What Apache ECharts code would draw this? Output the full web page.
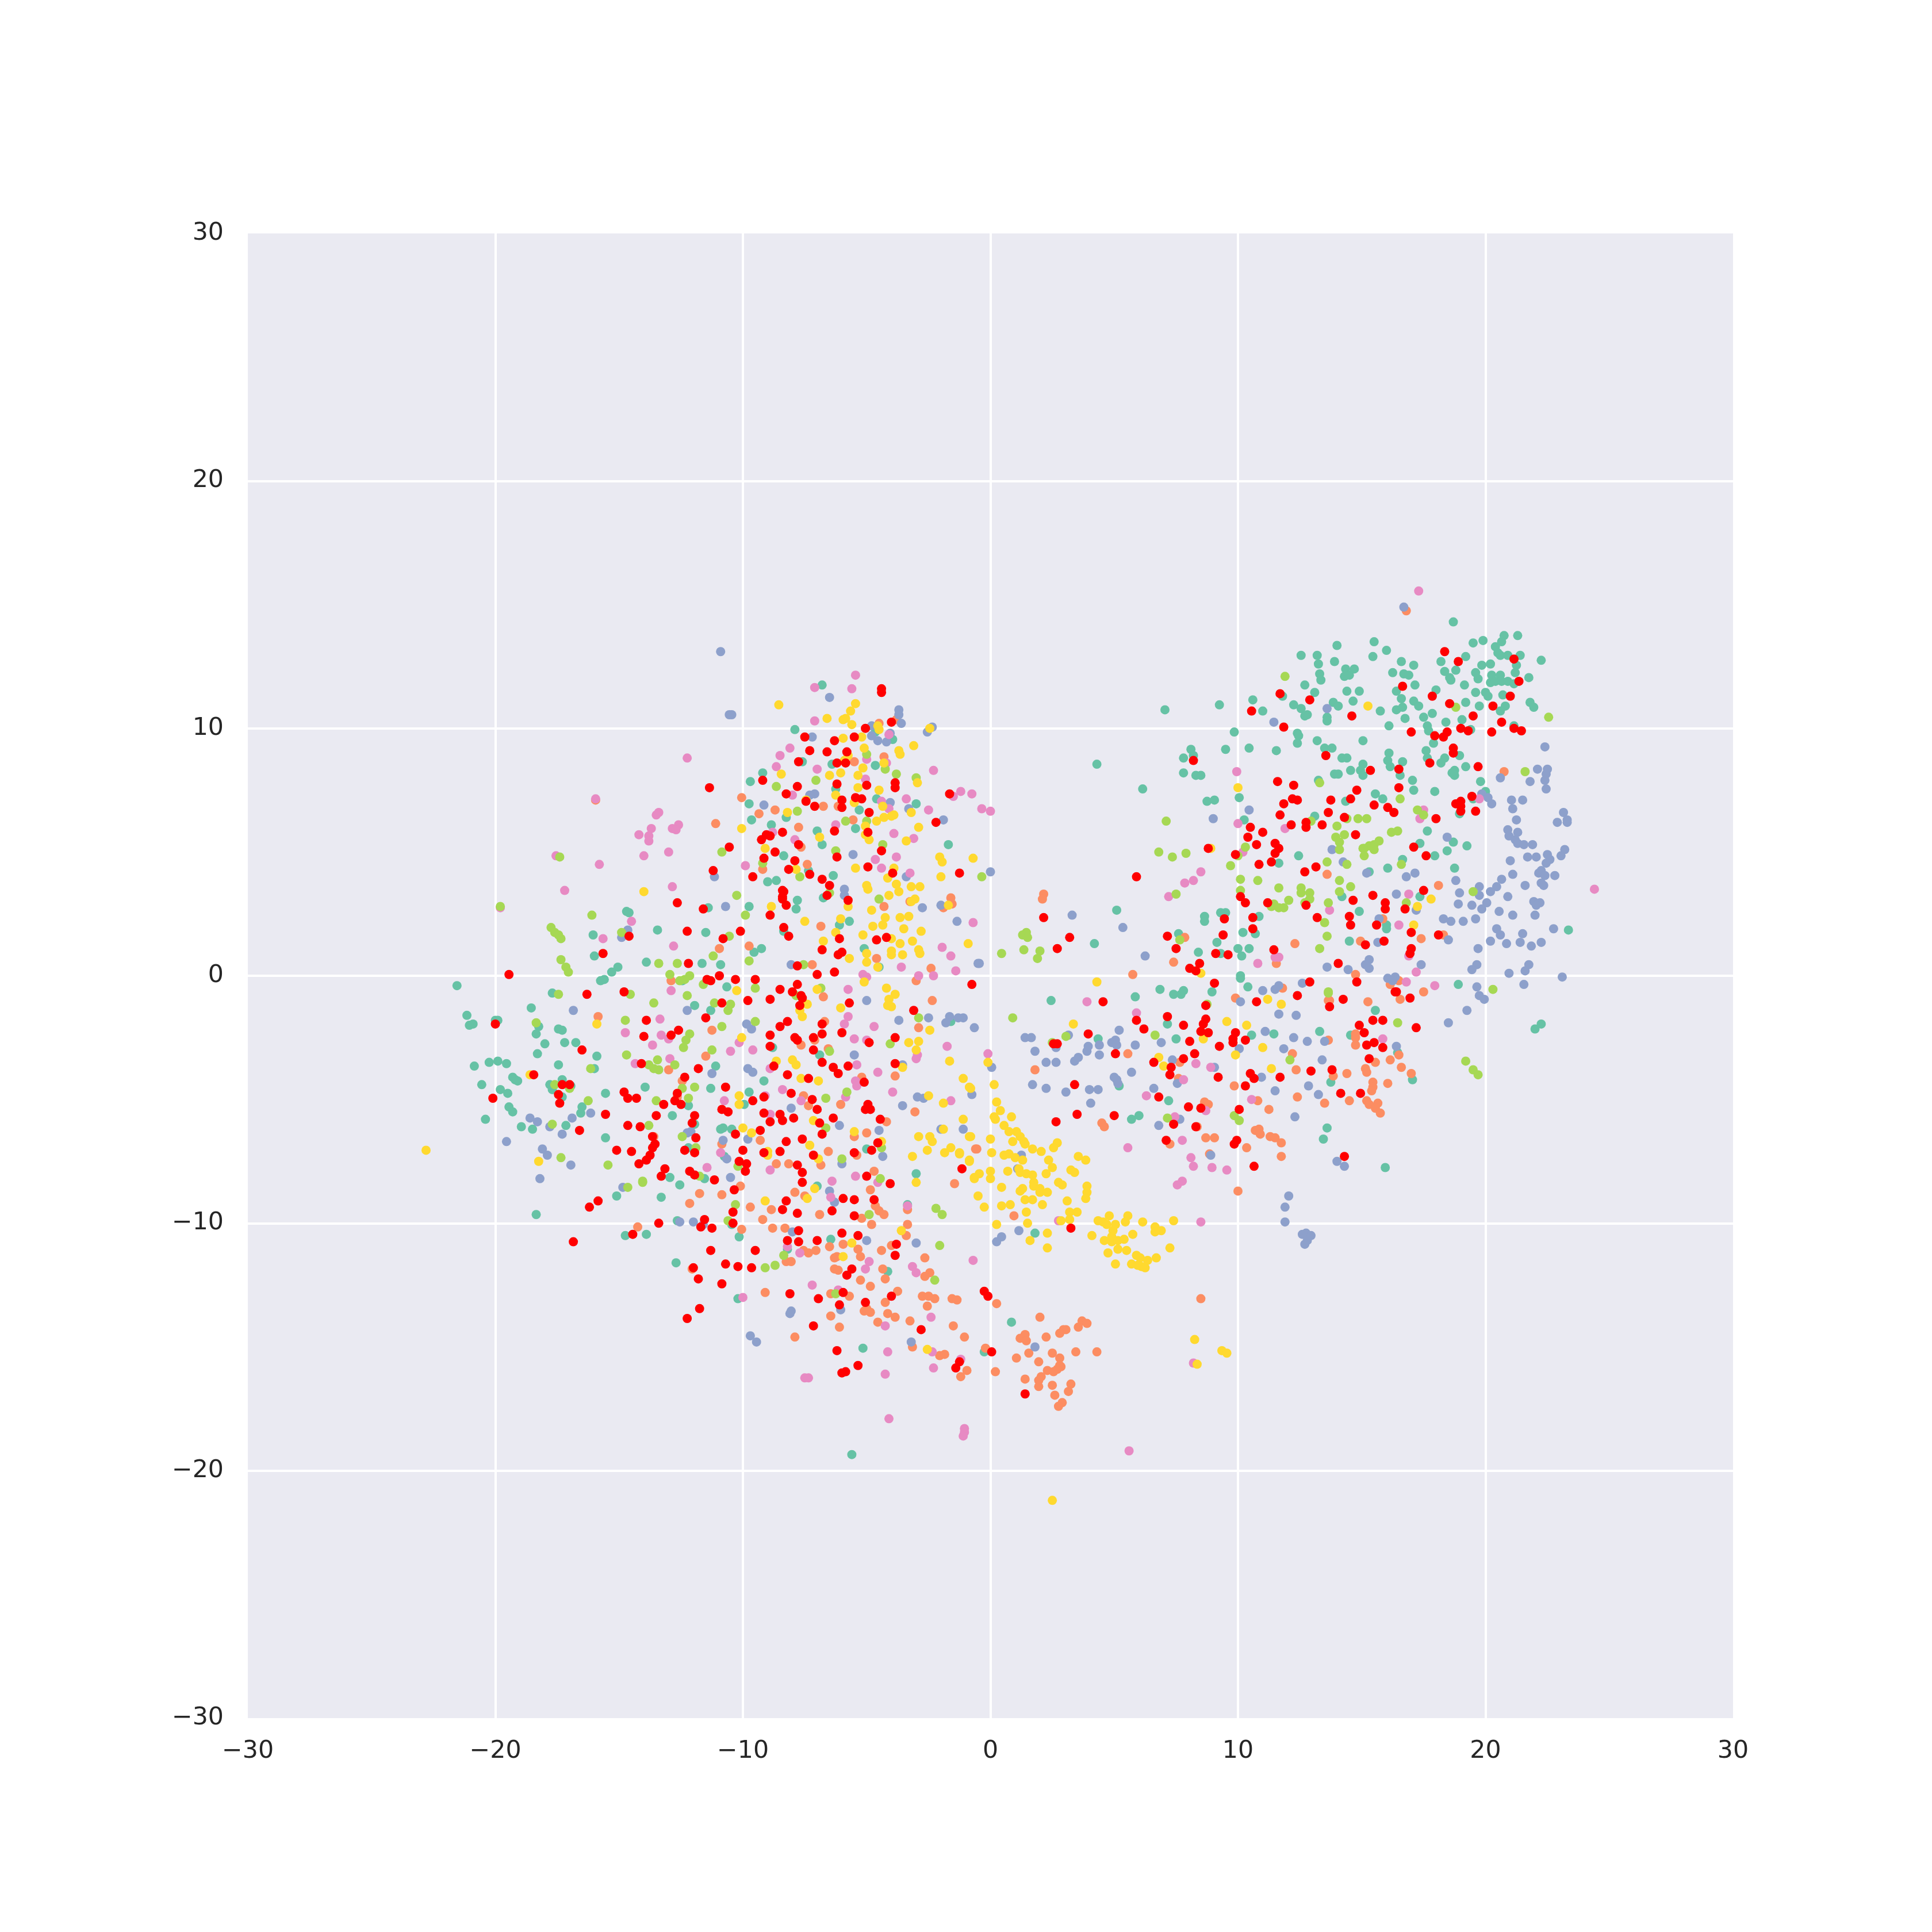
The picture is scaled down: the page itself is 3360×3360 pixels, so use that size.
<!DOCTYPE html>
<html><head><meta charset="utf-8"><style>html,body{margin:0;padding:0;background:#fff}#c{width:3360px;height:3360px}</style>
<script src="https://cdn.jsdelivr.net/npm/echarts@6/dist/echarts.min.js"></script></head><body><div id="c"></div><script>
const tickStep = 10;
const tealPts = [[-6.8,11.75],[-7.9,9.95],[-4.65,9.85],[-3.95,9.55],[-7.6,8.65],[-6.4,8.55],[-4.65,8.5],[-9.2,8.2],[-9.7,7.85],[-6.25,7.55],[-4.6,7.15],[-9.75,6.95],[-3,6.95],[-5.3,6.7],[-9.65,6.3],[-8.25,6.4],[-8.85,6.1],[-5.45,5.95],[-7,5.85],[-6.8,5.3],[-1.7,5.3],[-8.35,4.85],[-7.35,4.25],[-6.35,4.05],[-9,3.8],[-8.65,3.85],[-6.75,3.15],[-7.8,3.05],[-11.4,2.75],[-9.75,2.8],[-7.85,2.7],[-14.7,2.6],[-14.6,2.55],[-6.1,2.05],[-5.7,2.2],[-13.45,1.85],[-11.5,1.75],[-8.35,1.8],[-16.05,1.65],[-5.1,1.1],[-9.25,1.1],[-9.55,0.95],[-16,0.8],[-13.9,0.55],[-11.65,0.5],[-10.9,0.45],[-15.05,0.35],[-4.5,0.35],[-15.3,0.15],[-15.6,-0.15],[-15.75,-0.2],[-21.55,-0.4],[-12.45,-0.2],[-10.65,-0.45],[-17.7,-0.7],[-11.95,-1.2],[-11.3,-1.4],[-18.55,-1.3],[-21.15,-1.6],[-20,-1.8],[-19.9,-1.8],[-20.9,-1.95],[-21.05,-2],[-18.25,-2.05],[-17.45,-2.15],[-17.3,-2.2],[-1.6,-1.85],[-18.35,-2.35],
[-18,-2.75],[-17.2,-2.7],[-16.75,-2.7],[-8.8,-2.9],[-15.9,-3.25],[-18.3,-3.15],[-6.9,-3.2],[-20.85,-3.65],[-20.25,-3.5],[-19.9,-3.45],[-19.55,-3.55],[-17.45,-3.6],[-16,-3.75],[-11.1,-3.65],[-19.3,-4.1],[-19.2,-4.2],[-19.1,-4.25],[-9.15,-4.25],[-17.3,-4.2],[-20.55,-4.4],[-17.8,-4.4],[-16.95,-4.45],[-19.8,-4.6],[-17.7,-4.6],[-19.5,-4.75],[-13.95,-4.5],[-11.3,-4.55],[-15.55,-4.75],[-9.75,-4.7],[-17.3,-4.9],[-19.45,-5.3],[-16.5,-5.3],[-12.2,-5.25],[-19.3,-5.5],[-16.55,-5.55],[-9.95,-5.2],[-12.85,-5.65],[-20.4,-5.8],[-18.95,-6.1],[-18.5,-6.2],[-17.15,-6.05],[-11.95,-6],[-10.9,-6.2],[-10.8,-6.15],[-10.45,-6.2],[-15.55,-6.55],[-12.2,-6.95],[-5,-7],[-10.75,-7.3],[-12.95,-8.15],[-11.55,-8.2],[-3,-8],[-12.55,-8.45],[-7,-8.5],[-15.1,-8.9],[-13.3,-8.95],[-3.35,-9.25],[-18.35,-9.65],[-12.65,-9.9],[-10.45,-10.05],[-10.15,-10.55],[-14.75,-10.5],[-13.9,-10.45],[-6.45,-10.65],[-8.2,-11.05],[-12.7,-11.6],[-4.15,-11.95],[-10.2,-13.05],[-5.15,-15.05],[-5.6,-19.35],
[18.7,14.3],[14,13.35],[15.5,13.5],[16,13.15],[12.55,12.95],[13.2,12.95],[13.9,12.7],[13.25,12.6],[15.45,12.9],[16.6,12.7],[17.1,12.55],[18.2,12.7],[19.2,12.9],[20.75,13.75],[21.3,13.75],[19.9,13.55],[19.5,13.45],[20.65,13.5],[20.4,13.3],[20.5,13.05],[20.6,12.95],[20.9,12.95],[21.4,12.95],[22.25,12.75],[21.25,12.55],[19.85,12.55],[20.2,12.6],[14.7,12.4],[14.35,12.4],[13.3,12.2],[16.25,12.25],[16.7,12.2],[16.9,12.15],[18.35,12.3],[18.8,12.35],[19.6,12.25],[21.2,12.25],[14.3,12.1],[14.5,12.15],[13.35,11.95],[20.25,12.15],[20.6,12.15],[19.7,12],[21.75,12.05],[18.55,12.05],[18.6,11.95],[20.2,11.85],[20.4,11.9],[20.65,11.9],[20.9,11.9],[21.15,11.8],[12.7,11.75],[17.15,11.75],[19.15,11.75],[14.4,11.5],[14.9,11.5],[16.4,11.5],[18,11.55],[19.6,11.45],[20,11.45],[20.1,11.3],[13.1,11.45],[11.8,11.3],[20.7,11.35],[10.6,11.15],[16.6,11.2],[14.65,11.1],[17.1,11.1],[13.85,11.05],[19.2,11.05],[21.8,11.05],[12.25,10.95],[14.05,10.9],[17.3,10.9],[19.75,10.9],[21.95,10.85],[7.05,10.75],[9.25,10.95],[12.55,10.8],[11,10.7],[16.4,10.75],[16.65,10.85],[15.75,10.7],[20.8,10.9],[20.6,10.7],[17.85,10.6],[12.8,10.55],[12.7,10.5],[13.6,10.45],[13.6,10.3],[16.75,10.4],[17.5,10.45],[18.4,10.25],[19.05,10.35],[16.1,10.1],[17.65,10.1],[17.7,9.9],[19.4,9.95],[21.15,10.1],[9.85,9.85],[12.4,9.8],[12.45,9.7],[12.4,9.4],[13.2,9.5],[15.05,9.5],[17.9,9.4],[8.1,9.15],[9.5,9.15],[10.45,9.2],[11.55,9.1],[13.5,9.2],[13.8,9.2],[17.6,9.1],[16.1,9],[18.95,8.9],[8.2,8.9],[7.8,8.8],[14.2,8.8],[14.4,8.8],[17.65,8.8],[18.35,8.8],[16.05,8.7],[16.65,8.65],[18.2,8.6],[4.3,8.55],[15.05,8.55],[16.15,8.45],[19.2,8.45],[14.95,8.3],[14.55,8.3],[18.75,8.3],[18.65,8.2],[7.8,8.2],[8.3,8.1],[8.5,8.1],[13.9,8.15],[14.05,8.15],[15.05,8.1],[16.55,8.1],[18.75,8.1],[17.05,7.9],[19.8,7.85],[13.25,7.9],[6.15,7.55],[17.1,7.5],[17.95,7.45],[20,7.45],[15.55,7.35],[10.05,7.2],[8.75,7.05],[9.05,7.1],[15.85,7.15],[14.35,7.05],[19.5,7.15],[18.95,6.55],[13.1,6.45],[10.25,6.3],[17.65,5.85],[18.7,5.4],[17.35,5.35],[19.25,5.25],[18.45,5.05],[12.45,4.85],[17.95,4.85],[11.65,4.55],[16.65,4.7],[18.75,4.35],[16.05,4.35],[15.3,4.2],[14.2,3.2],[17.35,3.2],[5.1,2.65],[14.9,2.6],[9.3,2.55],[9.5,2.55],[10.85,2.4],[8.65,2.4],[8.65,2.2],[16,2.05],[16,1.9],[23.35,1.85],[10.2,1.75],[10.7,1.7],[7.6,1.7],[4.2,1.3],[14.5,1.4],[9.15,1.35],[10,1.1],[10.45,1.1],[8.4,0.95],[9.3,0.9],[10.15,0.8],[10.1,-0.1],[10.4,-0.45],[6.85,-0.55],[7.8,-0.6],[7.4,-0.75],[7.7,-0.75],[8.95,-0.65],[18.9,-0.35],[5.85,-0.85],[2.45,-1],
[7.15,-1.95],[4.35,-2.55],[7.5,-2.55],[11.45,-2.35],[10.55,-2.4],[13.3,-2.25],[14.55,-2.4],[15.55,-1.4],[17.05,-4.2],[13.75,-4.3],[5.2,-4.45],[7.2,-5.05],[5.7,-5.8],[6,-5.65],[13.6,-6.15],[13.45,-6.6],[15.95,-7.75],[22,-2.15],[22.25,-1.95],[1.8,-10.4],[0.85,-14],[-0.25,-15.2],[16.45,-3.1],[10.1,0]];
const orangePts = [[-4.5,10.2],[-3.8,10.35],[-4.3,8.85],[-5.5,8.65],[-10.05,7.2],[-6.75,6.85],[-6.15,6.85],[-8.7,6.7],[-9.35,6.55],[-5.55,6.3],[-11.1,6.15],[-7.75,6],[-7.65,5.2],[-7.4,4.5],[-9.2,4.3],[-15.95,7.1],[-1.6,3.15],[-1.55,2.9],[-1.9,2.75],[-3.25,3],[-4.3,2.8],[-6.85,2],[-9.75,1.2],[-10.95,1.1],[-4.6,0.7],[-7.2,0.45],[-2.4,0.3],[-12.9,-0.2],[-3,-0.2],[-6.75,-0.85],[-2.35,-1],[-15.85,-1.65],[-6.7,-1.85],[-2.9,-2.1],[-11.25,-2.2],
[-7.1,-2.6],[-7.65,-2.8],[-6.55,-2.95],[-11.5,-3.25],[-13,-3.8],[-12.45,-4.25],[-3.85,-4.05],[-5.2,-4.1],[-7.55,-4.85],[-6.05,-5.2],[-7.35,-5.25],[-12.65,-4.9],[-3.05,-5.5],[-4.2,-5.9],[-5,-6.35],[-5.5,-6.5],[-13.6,-6.5],[-10.85,-6.8],[-9.3,-6.65],[-6.55,-7.1],[-5.4,-7.25],[-0.55,-7],[-8.65,-7.6],[-8.15,-7.6],[-6.85,-7.65],[-4.7,-7.9],[-1.45,-8.4],[-10.1,-8.5],[-4.85,-8.65],[-11.75,-8.8],[-10.85,-8.85],[-7.9,-8.75],[-7.5,-8.9],[-12.15,-9.2],[-9.7,-9.35],[-8.85,-9.45],[-4.65,-9.3],[-4.5,-9.5],[-4.3,-9.65],[-3.35,-9.45],[-9.2,-9.85],[-6.9,-9.65],[-5.2,-9.8],[-14.25,-10.15],[-10.05,-10.25],[-8.8,-10.2],[-8.3,-10.2],[-4.8,-10.05],[-3.35,-10.05],[-3.4,-10.5],[-5.95,-10.85],[-6.5,-10.95],[-5.35,-11.05],[-4.4,-11.1],[-4,-10.9],[-7.55,-11.1],[-7.05,-11.1],[-7.35,-11.2],[-6.3,-11.4],[-6.2,-11.35],[-5.25,-11.35],[-2.65,-11.4],[-8.25,-11.55],[-8.05,-11.55],[-12.05,-11.85],[-6.3,-11.85],[-6.15,-11.9],[-4.35,-11.85],[-2.45,-12],[-2.65,-12.15],[-4.25,-12.25],[-5.25,-12.3],[-4.85,-12.55],[-3.75,-12.75],[-9.1,-12.8],[-6.45,-12.85],[-5.7,-12.95],[-2.75,-12.95],[-2.5,-12.95],[-2.25,-13.05],[-1.55,-13.05],[-1.35,-13.1],[-4.25,-13.2],[-2.55,-13.35],[-5.1,-13.55],[-5,-13.45],[-4.85,-13.6],[-4.15,-13.65],[-3.85,-13.8],[-6.45,-13.75],[-4.55,-14],[-3.25,-13.95],[-1.5,-14.15],[-6.1,-14.2],[-1.05,-14.6],[-7.9,-14.6],[-3.15,-15],[-2.05,-15.35],[-1.85,-15.3],[-0.95,-15.95],[-1.2,-16.2],
[16.8,14.75],[20.75,8.25],[18.1,3.65],[2.15,3.3],[2.1,3.1],[13.6,4.1],[15.85,2.3],[7.85,1.55],[12.3,1.3],[14.95,1.4],[17.4,1.5],[18.3,1.65],[7.4,0.55],[11.55,0.5],[5.75,0.05],[14.75,0.05],[16.5,-0.2],[16.15,-0.35],[11.8,-0.5],[17.5,-0.65],[9.9,-0.9],[16.55,-0.95],[15.25,-1.05],[13.65,-1],
[13.7,-1],[13.65,-2.6],[14.75,-2.8],[14.75,-2.5],[14.75,-2.35],[5.55,-3.15],[12.2,-3.15],[16.5,-3.2],[16.15,-3.4],[15.55,-3.5],[7.65,-3.5],[1.8,-3.8],[12.35,-3.8],[16.6,-3.7],[15.15,-3.75],[15.2,-3.9],[14.4,-3.95],[17,-3.95],[13.85,-4.05],[7.6,-4.15],[15.45,-4.3],[16.05,-4.35],[15.45,-4.5],[15.4,-4.65],[9.85,-4.45],[12.4,-4.9],[13.5,-5.15],[10.8,-5.05],[14.5,-5.05],[15.2,-5.05],[15.65,-5.15],[15.3,-5.2],[15.55,-5.35],[15.75,-5.55],[8.65,-5.1],[8.8,-5.2],[11.25,-5.4],[4.5,-5.95],[4.6,-6.1],[8.35,-6.1],[10.7,-6.25],[10.85,-6.2],[10.9,-6.4],[11.3,-6.5],[11.5,-6.55],[11.75,-6.75],[8.7,-6.55],[9.05,-6.55],[7.25,-6.8],[10.35,-6.95],[11.75,-7.3],[8.85,-7.2],[10,-8.7],[-0.6,-7],[0.95,-9.7],[8.5,-13.05],[0.25,-13.25],[2,-13.8],[3.7,-13.95],[3.9,-14.05],[3.55,-14.2],[3.05,-14.3],[2.95,-14.3],[2.8,-14.45],[1.4,-14.5],[1.2,-14.65],[2.25,-14.6],[1.45,-14.75],[-0.2,-15.05],[2.5,-15.25],[1.55,-15.25],[3.45,-15.2],[4.3,-15.2],[2.8,-15.45],[1.05,-15.45],[1.95,-15.6],[2.8,-15.75],[2.85,-15.8],[2.3,-15.95],[2.7,-15.9],[2.55,-16],[0.2,-16],[1.4,-16.3],[2.05,-16.2],[1.95,-16.35],[2.5,-16.55],[3.25,-16.5],[1.95,-16.6],[3.15,-16.8],[2.6,-16.95],[2.9,-17.25],[2.75,-17.4]];
const bluePts = [[-10.9,13.1],[-10.55,10.55],[-10.45,10.55],[-6.5,11.25],[-3.7,10.75],[-3.7,10.55],[-3.6,10.2],[-4.8,10.1],[-2.35,10.05],[-2.55,9.85],[-4.05,9.8],[-4.8,9.7],[-7.2,9.65],[-4.55,9.5],[-4.2,9.45],[-7.1,7.35],[-7.3,7.3],[-4.05,7],[-9.15,6.9],[-3.3,6.75],[-1.9,6.3],[-5.55,4.9],[-11.15,4],[-3.4,4],[-5.9,3.5],[-5.9,3.25],[-10.7,2.8],[-2,2.85],[-2.75,2.75],[-1.35,2.2],[-14.65,1.85],[-14.9,1.55],[-8.05,0.45],[-0.5,0.5],[-16.85,-1.4],[-5,-1],[-12.25,-1.4],[-3.7,-1.8],[-2.5,-1.7],[-1.65,-1.65],[-1.3,-1.7],[-1.1,-1.7],[-1.8,-1.9],[-9.85,-1.95],[-9.65,-2.15],[-0.65,-2.1],
[-5.5,-3.2],[-9.8,-3.75],[-9.6,-3.9],[-11.25,-3.95],[-3.55,-3.6],[-0.75,-4.8],[-2.95,-4.9],[-2.7,-4.95],[-3.55,-5.25],[-8.05,-5.35],[-16.15,-5.55],[-18.6,-5.75],[-18.3,-5.9],[-16.9,-5.75],[-17.8,-6.1],[-17.3,-6.4],[-6.1,-6.05],[-4.5,-6.25],[-2,-6.2],[-1.1,-6.2],[-12.25,-6.35],[-12.1,-6.3],[-10.8,-6.65],[-9.8,-6.6],[-19.55,-6.7],[-18.1,-7],[-17.9,-7.25],[-4.35,-7.3],[-16.95,-7.65],[-10.65,-7.4],[-6,-7.6],[-18.2,-8.2],[-10.5,-8.15],[-14.85,-8.55],[-6.5,-8.7],[-6.3,-9.15],[-12.55,-9.95],[-12,-9.95],[-11.6,-10.05],[-8,-10.35],[-5,-10.7],[-3,-10.8],[-8.05,-13.55],[-8.1,-13.65],[-6.05,-13.5],[-9.7,-14.55],[-9.45,-14.8],[-3.2,-14.8],
[13.6,10.8],[11.45,10.25],[16.7,14.9],[22.4,9.25],[22.1,8.35],[22.5,8.35],[22.45,8.15],[22.4,7.9],[21.8,7.85],[22.45,7.55],[20.6,8],[19.85,7.35],[20.1,7.2],[20.25,6.95],[21.05,7.1],[21.5,7.1],[21.1,6.75],[10.45,6.7],[23.15,6.6],[22.9,6.2],[23.3,6.3],[23.3,6.2],[9,6.35],[21.25,6.3],[20.9,5.9],[21.3,5.8],[20.95,5.65],[21.2,5.5],[21.3,5.35],[21.55,5.3],[21.9,5.3],[18.45,5.6],[13.8,5.1],[23.2,5.1],[22.5,4.9],[23.05,4.85],[21.7,4.8],[22.05,4.8],[22.6,4.7],[21,4.65],[22.45,4.55],[14.25,4.6],[22.25,4.25],[22.15,4.15],[22.4,4.05],[22.8,4.05],[21.1,4.1],[20.65,3.9],[15.2,4.15],[17.15,4.15],[16.8,4],[18.8,3.85],[22.25,3.75],[22.35,3.65],[21.6,3.65],[19.75,3.6],[20.45,3.6],[20.2,3.4],[18.95,3.35],[19.75,3.25],[16.4,3.3],[20.9,3.2],[21.95,3],[22.2,2.95],[22.05,2.85],[20.05,2.95],[18.9,2.9],[19.45,2.85],[19.85,2.7],[17.2,2.65],[3.3,2.45],[20.55,2.6],[21.1,2.45],[22,2.45],[15.7,2.3],[18.3,2.3],[18.6,2.2],[19.1,2.2],[19.6,2.3],[5.35,1.95],[20.45,1.9],[22.75,1.9],[20.6,1.65],[21.5,1.7],[18.5,1.45],[20.2,1.4],[20.85,1.3],[21.4,1.35],[21.85,1.2],[22.25,1.35],[15.65,1.35],[19.7,1.1],[6.25,0.8],[15.3,0.65],[15.15,0.45],[15.3,0.3],[13.6,0.35],[14.45,0.25],[17.4,0.45],[19.65,0.45],[19.45,0.25],[21.75,0.45],[21.6,0.2],[20.95,0.1],[23.1,-0.05],[-0.45,0.5],[0,4.2],[16.05,-0.1],[16.35,-0.05],[16.25,-0.2],[21.55,-0.35],[12.6,-0.3],[11.65,-0.4],[11.5,-0.55],[11,-0.6],[19.65,-0.45],[19.75,-0.8],[19.95,-0.95],[10.1,-1.05],
[1.4,-2.5],[1.65,-2.5],[2.65,-2.9],[1.8,-3.05],[3.15,-2.4],[2.25,-3.5],[2.65,-3.5],[3.4,-3.45],[3.55,-3.3],[3.9,-3.05],[3.95,-2.85],[4.4,-3.2],[4.4,-2.8],[4.9,-2.7],[5.05,-2.6],[5.1,-2.8],[5.2,-2.2],[5.85,-2.8],[6.9,-2.7],[7.35,-3.4],[5.7,-3.9],[5,-4.1],[5.1,-4.2],[5.15,-4.35],[1.7,-4.4],[2.25,-4.55],[3.05,-4.7],[4,-4.6],[4.35,-4.6],[4.05,-5.15],[6.6,-4.55],[7.55,-4.35],[9.05,-3.7],[10.95,-4.1],[11.5,-4.65],[12.85,-4.45],[13.25,-4.8],[13.4,-3.4],[12.3,-5.7],[11.85,-2.95],[12.8,-2.65],[12.25,-2.5],[13.5,-2.65],[16.4,-2.85],[10.05,-2.95],[11.1,-2.25],[11.65,-1.55],[12.35,-1.6],[18.5,-1.9],[19.25,-1.4],[7.65,-5.8],[6.8,-6.05],[0.05,-3.7],[1.25,-7.25],[1.1,-7.8],[8.9,-7.25],[14,-7.5],[14.3,-7.7],[12.05,-8.9],[11.9,-9.35],[11.9,-9.95],[12.6,-10.45],[12.75,-10.4],[12.95,-10.5],[12.8,-10.7],[12.7,-10.85],[1.15,-10.3],[0.45,-10.55],[0.25,-10.75],[1.8,-15]];
const pinkPts = [[-5.45,12.15],[-7.1,11.65],[-5.6,11.6],[-7.1,10.3],[-4.1,9.75],[-12.25,8.8],[-8.1,9.2],[-8.5,8.9],[-5,8.75],[-4.2,8.6],[-8.65,8.45],[-7,8.35],[-2.3,8.3],[-5.05,7.95],[-8,7.3],[-1.2,7.45],[-0.75,7.35],[-1.5,7.25],[-15.95,7.15],[-3.4,7.15],[-4.4,7.05],[-4.1,6.75],[-2.5,6.7],[-13.4,6.6],[-13.5,6.5],[-12.6,6.1],[-13.7,5.95],[-12.85,5.95],[-12.7,5.9],[-13.8,5.65],[-14.2,5.7],[-13.8,5.45],[-6.25,6.1],[-8.8,5.8],[-3.9,5.75],[-3.1,5.55],[-7.9,5.5],[-17.55,4.85],[-14,4.85],[-13,5],[-15.8,4.5],[-3.8,4.8],[-4.65,4.7],[-9.9,4.45],[-4.4,4.35],[-3.25,4.15],[-17.2,3.45],[-12.85,3.6],[-14.5,2.2],[-19.8,2.75],[-0.7,2.15],[-15.65,1.5],[-12.8,1.2],[-1.95,1.15],[-1.6,0.8],[-3.6,0.35],[-1.4,0.2],[-5.15,0.05],[-5,-0.05],[-2.3,0],[-2.9,0],[-12.9,-0.6],[-5.75,-0.55],[-13.35,-1.75],[-5.75,-1.65],[-5.9,-1.95],[-4.7,-2.05],[-14.75,-2.3],[-13.3,-2.4],
[-13,-2.55],[-13.65,-2.8],[-10.15,-2.7],[-10.5,-3.05],[-9.6,-3],[-5.5,-2.55],[-5,-2.6],[-1.75,-2.85],[-12.95,-3.35],[-14.35,-3.55],[-5.4,-3.6],[-2.95,-3.2],[-3,-3.35],[-8.9,-3.75],[-4.55,-3.9],[-5.45,-4.25],[-5.4,-4.45],[-8.4,-4.6],[-9.1,-4.85],[-3.95,-4.7],[-5.85,-4.9],[-10.75,-5.05],[-7.65,-5.05],[-1.6,-5.05],[-8.9,-5.6],[-10.9,-7.15],[-11.45,-7.75],[-8.9,-7.85],[-5.45,-8.1],[-6.4,-8.3],[-4.55,-8.35],[-6.45,-8.95],[-3.35,-9.3],[-8.2,-10.95],[-7.7,-11.2],[-4.9,-11.55],[-3.15,-11.75],[-3,-12],[-5.05,-11.85],[-0.7,-11.5],[-7.2,-12.5],[-6.15,-12.7],[-10,-13],[-2.4,-13.8],[-4.25,-14.15],[-4.15,-15.2],[-2.35,-15.2],[-1.2,-15.5],[-2.3,-15.85],[-4.25,-16.1],[-7.5,-16.25],[-7.35,-16.25],[-4.1,-17.9],[-1.05,-18.3],[-1.05,-18.45],[-1.1,-18.6],
[17.3,15.55],[9.95,8.25],[-0.35,6.75],[0,6.65],[10,6.15],[11.9,5.95],[17.5,6.7],[17.35,6.35],[19.75,7.15],[10.2,5],[8.5,4.2],[8.2,3.85],[7.85,3.75],[7.2,3.2],[24.4,3.5],[16.9,3.3],[13.7,2.65],[16.5,2.05],[11.5,0.75],[11.65,0.75],[10.8,0.5],[16.9,0.8],[17.2,0.15],[16.8,-0.25],[17.95,-0.4],[3.9,-1.05],
[5.9,-1.5],[15.85,-2.55],[8.3,-3.55],[8.9,-3.7],[7.8,-4.2],[6.3,-4.85],[10.55,-5],[8.7,-5.45],[7.45,-5.7],[7.75,-6.65],[5.55,-6.95],[8.1,-7.35],[8.2,-7.7],[8.95,-7.75],[9.55,-7.85],[7.75,-8.3],[7.55,-8.45],[2.75,-9.9],[8.5,-9.95],[8.2,-15.65],[-0.1,-3.15],[5.6,-19.2]];
const greenPts = [[-5,8.95],[-4.25,8.35],[-3.8,8.15],[-3,8],[-7.05,7.9],[-8.65,7.65],[-7.8,6.65],[-5.85,6.25],[-5,6.25],[-4.35,5.3],[-10.85,5],[-6.25,5.05],[-17.4,4.8],[-9.2,4.55],[-7.7,4],[-6.5,3.35],[-10.25,3.25],[-4.5,3.1],[-19.8,2.8],[-16.1,2.45],[-9.9,2.45],[-17.75,1.95],[-17.6,1.75],[-17.45,1.65],[-17.35,1.5],[-14.9,1.75],[-10.55,1.6],[-11.2,0.8],[-9.75,0.6],[-17.35,0.65],[-17.15,0.35],[-17.05,0.15],[-13.4,0.5],[-12.65,0.5],[-7.55,0.45],[-12.95,0.05],[-12.15,0],[-12.35,-0.15],[-12.55,-0.2],[-11.6,-0.35],[-9.5,-0.5],[-6.85,-0.5],[-17.45,-0.75],[-14.55,-0.75],[-12.25,-0.8],[-7.85,-0.8],[-13.6,-1.1],[-11.15,-1.1],[-10.5,-1.15],[-10.6,-1.4],[-2.9,-1.7],[-14.75,-1.8],[-9.5,-1.85],[-18.35,-1.9],[-10.85,-2.05],[-12.15,-2.35],
[-12.3,-2.6],[-12.4,-2.9],[-4.05,-2.75],[-14.7,-3.2],[-11.25,-3],[-6.5,-3.05],[-13.45,-3.4],[-13.8,-3.6],[-13.6,-3.75],[-13.4,-3.8],[-12.75,-3.6],[-16.15,-3.75],[-17.6,-4.4],[-17,-4.55],[-11.95,-4.5],[-12.45,-4.55],[-5.8,-4.7],[-6.65,-4.95],[-12.2,-4.95],[-16.25,-5.05],[-13.5,-5.05],[-17.7,-6],[-13.8,-6.05],[-6.65,-6.15],[-12.45,-6.5],[-11.9,-6.95],[-4.4,-6.95],[-6,-7.4],[-17.35,-7.35],[-15.45,-7.65],[-10.2,-7.7],[-11.75,-8.1],[-4.45,-8.2],[-14.05,-8.3],[-14.05,-8.35],[-14.65,-8.55],[-10.3,-9.25],[-2.2,-9.4],[-4.9,-9.65],[-1.95,-9.65],[-10.6,-9.9],[-2.05,-10.9],[-8.35,-11.3],[-9.1,-11.8],[-8.7,-11.7],[-2.25,-12.3],[-6.25,-12.85],
[11.9,12.1],[18.8,10.85],[22.55,10.45],[21.6,8.25],[13.3,7.8],[16.55,7.15],[17.25,6.7],[17.5,6.5],[7.1,6.25],[14.4,6.35],[14.85,6.35],[15.2,6.35],[12.95,6.25],[14,6.05],[16.2,5.8],[16.45,5.85],[13.95,5.6],[14.3,5.7],[14.1,5.4],[15.7,5.45],[15.5,5.3],[15.3,5.25],[15.1,5.15],[15.05,5.15],[15.5,5.1],[14.1,5.1],[10.3,5.2],[6.8,5],[7.9,4.95],[7.35,4.8],[10,4.85],[15.1,4.85],[9.7,4.45],[13.6,4.6],[14.4,4.5],[16.6,4.5],[10.1,3.9],[10.8,3.85],[14.1,3.85],[14.55,3.6],[11.65,3.55],[12.55,3.55],[10.1,3.45],[12.55,3.35],[12.9,3.35],[14.1,3.4],[7.5,3.3],[19.5,3.4],[12.9,3.1],[12.05,3.05],[12.7,2.95],[11.45,2.9],[13.65,2.95],[16.8,2.95],[11.35,2.8],[11.65,2.75],[11.85,2.75],[13.5,2.15],[1.45,1.75],[1.3,1.65],[1.5,1.55],[13.6,1.6],[7.65,1.45],[1.35,1.05],[2,1],[0.45,0.9],[1.9,0.7],[13.3,1.1],[20.3,-0.55],[13.65,-0.7],[8.75,-1.15],[-0.35,4],
[0.9,-1.7],[3.05,-2.45],[2.5,-2.7],[6.65,-2.4],[13.65,-0.65],[16.45,-1.9],[12.1,-3.4],[9.85,-5.65],[10.05,-5.85],[7.15,-5.75],[19.2,-3.45],[19.5,-3.8],[19.7,-4]];
const yellowPts = [[-8.55,10.95],[-5.45,11],[-5.65,10.7],[-6.6,10.4],[-5.95,10.35],[-5.85,10.4],[-5.6,10.15],[-4.55,10.1],[-4.5,9.95],[-2.45,10],[-5.2,9.65],[-5.95,9.6],[-3.1,9.3],[-5.1,9.2],[-3.7,9.1],[-3.65,8.95],[-5.75,8.9],[-5.9,8.7],[-4.3,8.6],[-5.15,8.4],[-8.45,8.15],[-6.5,8.1],[-6.05,8.2],[-5.35,8.1],[-2.95,7.8],[-5.35,7.6],[-4.5,7.5],[-6.25,7.3],[-7.45,7.1],[-5.5,7],[-4.35,6.85],[-8.2,6.6],[-3.2,6.6],[-3.9,6.5],[-4,6.45],[-4.3,6.4],[-4.6,6.25],[-5.05,6.05],[-2.9,6],[-10.05,5.95],[-5.05,5.7],[-6.9,5.6],[-4.9,5.5],[-3.4,5.45],[-9.1,5.15],[-2.05,4.8],[-1.95,4.6],[-0.7,4.75],[-7.85,4.3],[-5.45,4.35],[-3.9,4.35],[-4.15,3.95],[-2,4],[-5,3.65],[-4.95,3.5],[-3.8,3.7],[-3.2,3.6],[-2.85,3.6],[-3.7,3.4],[-14,3.4],[-4.1,3.25],[-3.05,3.1],[-3.2,3],[-8.85,2.8],[-5.75,2.8],[-1.7,2.85],[-4.8,2.65],[-4.25,2.35],[-3.65,2.35],[-3.3,2.4],[-7.5,2.2],[-6.05,2.3],[-4.75,2],[-4.35,2.05],[-3.5,1.9],[-2.8,1.8],[-6.25,1.75],[-5.15,1.65],[-4,1.5],[-6.75,1.4],[-3.15,1.4],[-3.65,1.3],[-0.9,1.3],[-2.9,1.05],[-2.85,0.9],[-5,0.9],[-4,1],[-4,0.85],[-3.55,0.85],[-5.7,0.7],[-5,0.55],[-4.55,0.35],[-5.1,-0.25],[-4.2,-0.5],[-10.25,-0.6],[-7,-0.55],[-3.85,-0.75],[-4.1,-0.95],[-4.15,-1.2],[-4,-1.25],[-7.4,-1.15],[-7.7,-1.4],[-6.05,-1.3],[-7.6,-1.65],[-15.9,-1.95],[-2.45,-2.2],
[-10.05,-2.5],[-2.9,-2.65],[-3.3,-2.7],[-3,-3],[-1.65,-3.45],[-8.65,-3.45],[-8,-3.4],[-7.85,-3.6],[-3.55,-3.7],[-18.6,-4],[-7.65,-4.15],[-6.95,-4.25],[-1.1,-4.15],[-0.8,-4.55],[-10.15,-4.85],[-10.15,-5.2],[-2.5,-4.85],[-1.9,-5.15],[-7.15,-5.85],[-1.1,-5.8],[-10,-6.15],[-9.65,-6.35],[-5.5,-6.3],[-1.9,-6.2],[-2.9,-6.5],[-2.45,-6.5],[-2.35,-6.7],[-0.8,-6.5],[-7.3,-6.85],[-4.4,-6.7],[-9,-7.1],[-9,-7.25],[-2.55,-7.05],[-1.6,-6.95],[-1.85,-7.15],[-1.25,-7.2],[-3.15,-7.3],[-0.85,-7.5],[-6.95,-7.4],[-18.25,-7.5],[-0.65,-8.15],[-3,-8.35],[-7.1,-8.6],[-7.4,-9],[-9.1,-9.1],[-3.6,-10.3],[-5.6,-10.8],[-5.95,-11.35],[-2.55,-15.1],[-22.8,-7.05],
[10,7.6],[15.25,10.9],[8.9,5.15],[17.8,3.1],[17.25,2.8],[17.1,2.05],[8.5,0.1],[4.3,-0.25],[11.2,-0.95],[11.75,-1.15],
[3.35,-1.95],[9.55,-1.85],[10.35,-2],[8.6,-2.55],[11,-2.9],[9.9,-3.2],[6.8,-3.3],[7,-3.65],[11.35,-3.75],[-0.1,-3.5],[-0.85,-4.5],[0.15,-4.4],[0.25,-5.1],[0.4,-5.45],[0.15,-5.7],[0.2,-5.8],[0.85,-5.7],[0.55,-6.05],[1.05,-6.3],[0.75,-6.3],[1.2,-6.5],[-0.85,-6.5],[0,-6.6],[1.35,-6.7],[0.9,-6.7],[1.4,-6.8],[2.7,-6.75],[2.55,-6.95],[1.7,-7],[2.05,-7.1],[0.05,-7.15],[-1.25,-7.15],[0.55,-7.25],[0.75,-7.2],[1,-7.35],[1.3,-7.45],[3.55,-7.3],[3.85,-7.45],[2.35,-7.45],[-0.85,-7.45],[2.5,-7.75],[0.7,-7.9],[1.15,-7.8],[1.2,-7.95],[1.45,-8],[1.7,-8.05],[2.25,-8],[3.25,-7.85],[3.4,-7.95],[0,-7.9],[-0.45,-8],[-0.65,-8.2],[0,-8.2],[2.75,-8.35],[2.9,-8.45],[1.75,-8.35],[1.75,-8.5],[0.45,-8.55],[3.9,-8.5],[1.3,-8.6],[1.2,-8.7],[2,-8.6],[2,-8.75],[2.3,-8.75],[3.9,-8.75],[3.85,-9],[-0.5,-8.9],[1.4,-9.05],[1.7,-9.05],[3.1,-9.1],[2.1,-9.25],[-0.25,-9.35],[0.45,-9.3],[0.8,-9.25],[1.45,-9.55],[3.2,-9.55],[3.5,-9.55],[3.2,-9.85],[2.85,-9.9],[1.5,-10],[0.25,-10.05],[2.3,-10.4],[1.6,-10.7],[2.3,-11],[4.8,-9.7],[5.55,-9.7],[4.35,-9.9],[4.55,-9.95],[4.7,-10.05],[5.05,-10.05],[5.45,-9.95],[6.15,-9.95],[7.4,-9.9],[6.65,-10.15],[6.9,-10.3],[6.65,-10.35],[4.95,-10.3],[4.1,-10.5],[5.75,-10.45],[4.6,-10.7],[4.9,-10.55],[4.9,-10.75],[5.15,-10.7],[5.4,-10.65],[5.15,-11.05],[7.25,-11],[4.75,-11.2],[5.5,-11.1],[5.9,-11.3],[6.05,-11.4],[6.35,-11.5],[6.7,-11.4],[5.7,-11.65],[5.05,-11.65],[5.95,-11.7],[6.1,-11.75],[6.25,-11.8],[8.25,-14.7],[9.35,-15.15],[9.55,-15.25],[8.35,-15.7],[2.5,-21.2]];
const redPts = [[-4.4,11.6],[-4.4,11.45],[-4,10.25],[-5.05,10],[-7.5,9.65],[-6.3,9.5],[-5.5,9.65],[-7.3,9.1],[-6.6,9.05],[-5.8,9.05],[-7.75,8.65],[-6.2,8.6],[-5.85,8.6],[-9.2,7.9],[-7.8,7.65],[-6.2,7.75],[-5,7.7],[-3.85,7.8],[-3.85,7.6],[-11.35,7.6],[-8.25,7.35],[-1.65,7.35],[-5.45,7.2],[-5.2,7.15],[-6,7.1],[-7.45,7.05],[-7.1,6.85],[-6,6.8],[-4.9,6.6],[-2.2,6.2],[-4.95,5.8],[-6.3,5.85],[-8.4,5.8],[-9.05,5.7],[-8.9,5.65],[-9.25,5.5],[-7.75,5.3],[-10.55,5.2],[-8.7,5],[-4.4,5.05],[-6.2,4.8],[-9.15,4.75],[-7.9,4.65],[-4.95,4.4],[-8.15,4.3],[-11.2,4.25],[-3.95,4.15],[-1.25,4.15],[-7.3,4.1],[-9.6,4],[-6.8,3.9],[-6.5,3.65],[-8.4,3.45],[-8.35,3.4],[-8.4,3.2],[-8.4,3.1],[-8.25,2.85],[-6.6,3.25],[-5.75,3.05],[-12.65,2.95],[-11.6,2.7],[-8.9,2.45],[-12.25,1.8],[-10.1,1.8],[-8.35,1.95],[-8.15,1.6],[-10.8,1.5],[-14.6,1.6],[-6.1,1.5],[-4.6,1.45],[-4.2,1.55],[-6.8,1.05],[-6.15,0.85],[-6,0.95],[-15.65,0.9],[-12.2,0.5],[-7.8,0.4],[-6.3,0.15],[-7,0.05],[-19.45,0.05],[-10.95,0],[-11.45,-0.15],[-11.3,-0.2],[-10.3,-0.15],[-9.5,-0.15],[-7.8,-0.35],[-0.75,-0.35],[-8.5,-0.55],[-8,-0.65],[-14.8,-0.65],[-16.3,-0.75],[-7.65,-0.8],[-7.6,-0.9],[-7.7,-1.2],[-10.85,-1.1],[-9.8,-1],[-8.9,-0.95],[-5.7,-1.1],[-3.1,-1.4],[-20,-1.95],[-13.9,-1.8],[-11.5,-1.7],[-8.2,-1.85],[-8.5,-2.05],[-6.8,-1.95],[-12.6,-2.2],[-6,-2.3],
[-12.9,-2.4],[-14,-2.45],[-8.9,-2.4],[-7.9,-2.5],[-7.8,-2.6],[-7.15,-2.5],[-6.8,-2.35],[-3.85,-2.5],[-4.9,-2.7],[-8.9,-2.85],[-7.15,-3],[-16.5,-3],[-14.1,-3.55],[-6.8,-3.5],[-6.35,-3.7],[-5.75,-3.65],[-6.15,-3.95],[-8.75,-3.65],[-11.8,-3.75],[-3.85,-3.55],[-8.2,-4],[-7.35,-4.15],[-12.35,-4.1],[-18.45,-4],[-5.1,-4.3],[-17.3,-4.4],[-17,-4.4],[-10.7,-4.5],[-14.8,-4.7],[-12.65,-4.75],[-8.05,-4.75],[-17.45,-4.8],[-20.1,-4.95],[-14.65,-4.95],[-14.3,-4.95],[-9.15,-4.9],[-9.6,-5.05],[-7.2,-5],[-12.75,-5.05],[-12.5,-5.2],[-17.4,-5.15],[-13.2,-5.2],[-7,-5.4],[-10.85,-5.4],[-10.6,-5.5],[-9.15,-5.55],[-8.5,-5.6],[-4.95,-5.2],[-5.05,-5.4],[-4.85,-5.4],[-15.55,-5.6],[-11.95,-5.65],[-13.5,-5.65],[-7.95,-5.75],[-8.4,-5.85],[-8.9,-5.9],[-6.35,-5.75],[-4.45,-5.8],[-6.9,-5.95],[-12.05,-5.95],[-14.65,-6.05],[-14.15,-6.1],[-16.6,-6.25],[-9.3,-6.25],[-10.3,-6.4],[-6.8,-6.4],[-13.65,-6.5],[-11.9,-6.55],[-7.6,-6.6],[-8.25,-6.7],[-4.55,-6.75],[-13.55,-6.8],[-13.65,-6.95],[-15.1,-7.05],[-14.5,-7.1],[-4.8,-7.05],[-10,-7.05],[-12.35,-7.05],[-11.95,-7.15],[-9.15,-7.15],[-8.5,-7.1],[-5.5,-7.15],[-7.15,-7.25],[-13.75,-7.25],[-13.9,-7.45],[-10.15,-7.5],[-9.85,-7.6],[-14.2,-7.6],[-7.8,-7.65],[-13.15,-7.8],[-9.9,-7.9],[-12.15,-7.9],[-7.6,-7.95],[-11.95,-8.05],[-13.3,-8.1],[-1.15,-7.8],[-11.15,-8.25],[-5,-8.1],[-7.6,-8.35],[-4.05,-8.4],[-10.35,-8.65],[-5.95,-9],[-5.5,-9.05],[-4.7,-9.05],[-8.25,-9.1],[-15.85,-9.1],[-16.2,-9.35],[-8.4,-9.45],[-6.4,-9.5],[-10.4,-9.55],[-7.8,-9.6],[-5.5,-9.7],[-10.4,-10],[-11.55,-9.85],[-13.4,-10],[-11.7,-10.15],[-11.25,-10.2],[-7.75,-10.3],[-6,-10.4],[-5.35,-10.5],[-14.45,-10.45],[-16.85,-10.75],[-8.2,-10.7],[-7.75,-10.75],[-7,-10.7],[-3.8,-10.85],[-11.3,-11.1],[-9.5,-11.1],[-3.85,-11.3],[-10.7,-11.65],[-10.2,-11.75],[-9.65,-11.8],[-12,-11.8],[-5.6,-11.85],[-5.8,-12.1],[-11.8,-12.25],[-10.85,-12.45],[-8.1,-12.85],[-5.95,-12.8],[-4,-12.95],[-6.95,-13.05],[-5.05,-13.2],[-6.1,-13.3],[-11.75,-13.45],[-12.25,-13.85],[-7.15,-14.15],[-2.8,-14.3],[-6.2,-15.15],[-5.35,-15.75],[-5.85,-16],[-6,-16.05],[-1.25,-15.6],[-1.4,-15.85],
[18.35,13.1],[18.9,12.7],[21.15,12.8],[21.35,11.9],[16.65,11.7],[11.7,11.4],[12.9,11.15],[17.85,11.3],[21,11.3],[18.55,11],[20.3,10.9],[10.55,10.7],[14.6,10.5],[19.5,10.5],[20.65,10.25],[11.85,10.05],[19,10],[19.3,9.9],[21.15,10],[21.45,9.9],[17,9.85],[18.45,9.85],[20.25,9.85],[17.95,9.7],[18.3,9.65],[18.7,9.2],[18.7,9],[13.55,8.9],[8.2,8.7],[17.75,8.6],[19.7,8.45],[16.5,8.35],[15.35,8.3],[11.6,7.85],[12.25,7.7],[16.5,7.6],[14.8,7.5],[19.45,7.25],[12.2,7.15],[12.4,7.1],[13.75,7.1],[14.55,7.15],[11.85,6.95],[19,7.05],[18.8,6.95],[19,6.85],[15.5,6.9],[16.05,6.8],[16.3,6.6],[19,6.65],[19.6,6.65],[13.65,6.6],[11.7,6.5],[14.3,6.4],[18,6.35],[12.15,6.1],[12.75,6.2],[12.75,6],[13.4,6.1],[10.5,6],[11,5.8],[10.4,5.6],[14.75,5.7],[11.5,5.35],[10.75,5.3],[11.65,5.15],[8.8,5.15],[11.5,4.95],[9.9,4.9],[17.1,5.2],[17.6,4.85],[11.35,4.6],[10.85,4.5],[13.15,4.4],[12.7,4.2],[5.9,4],[17.5,3.45],[10.1,3.2],[10.3,2.95],[11.2,2.95],[15.45,3.25],[14.65,3.05],[15.95,2.95],[12.75,2.85],[15.95,2.7],[16.75,2.7],[13.2,2.35],[14.5,2.4],[10.6,2.35],[2.15,2.35],[9.45,2.3],[14.55,2.05],[15.6,2.05],[10.6,1.9],[17,1.75],[3.2,1.55],[7.15,1.6],[9.4,1.65],[18.1,1.65],[15.9,1.4],[2.7,1.1],[7.5,1.1],[15.15,1.25],[11.45,1.05],[17,1.1],[16.95,0.9],[9.1,0.9],[9.6,0.85],[14.05,0.5],[8.45,0.5],[8.05,0.3],[8.3,0.2],[12.9,-0.25],[14.8,-0.25],[9.05,-0.3],[16.35,-0.65],[16.4,-0.65],[16.95,-0.9],[12.4,-0.8],[14.25,-0.95],[10.75,-1.05],[4.55,-1.05],[8.7,-1.2],
[13.7,-1.25],[5.9,-1.8],[7.15,-1.65],[6.2,-2.15],[7.8,-2],[8.7,-1.75],[8.6,-1.95],[8.5,-2.25],[8.8,-2.3],[9.9,-2.3],[9.8,-2.55],[9.8,-2.7],[10.3,-2.6],[8.05,-2.65],[9.25,-2.85],[3.95,-2.35],[2.55,-2.75],[2.7,-2.75],[5.05,-3.15],[6.6,-3.5],[7.8,-3.35],[8.25,-3.15],[7.3,-3.7],[7.25,-4],[9.2,-4.1],[10.5,-3.95],[10.65,-4.15],[11.7,-4.1],[12.95,-3.85],[13.8,-3.8],[15.45,-1.8],[15.85,-1.8],[17.2,-2.1],[14.9,-2],[15.1,-2.3],[15.2,-2.8],[15.5,-2.7],[15.85,-2.9],[15.3,-3.35],[10.3,-4.45],[3.4,-4.4],[14.15,-4.75],[14.95,-4.75],[6.8,-4.9],[3.5,-5.6],[5,-5.65],[8,-5.3],[8.5,-5.35],[10.05,-5.4],[2.65,-5.9],[7.4,-6],[8.3,-6.1],[7.1,-6.65],[9.95,-6.65],[9.85,-6.8],[14.3,-7.3],[10.65,-7.7],[3.25,-10.2],[-0.25,-12.75],[-0.1,-12.95],[0.05,-15.2],[1.4,-16.9]];
const seriesNames = ['c0','c1','c2','c3','c4','c5','c6'];
const seriesPoints = [tealPts, orangePts, bluePts, pinkPts, greenPts, yellowPts, redPts];
const seriesColors = ['#66c2a5','#fc8d62','#8da0cb','#e78ac3','#a6d854','#ffd92f','#ff0000'];
const axisMin = -30, axisMax = 30;
const fmt = v => String(v).replace('-', '\u2212');
const label = {color:'#262626',fontFamily:'DejaVu Sans',fontSize:42.7,formatter:fmt};
const split = {show:true,showMinLine:false,showMaxLine:false,lineStyle:{color:'#ffffff',width:4}};
const mkAxis = (margin,padding) => ({type:'value',min:axisMin,max:axisMax,interval:tickStep,axisLine:{show:false},axisTick:{show:false},
  axisLabel:Object.assign({margin,padding,showMinLabel:true,showMaxLabel:true},label),splitLine:split});
const chart = echarts.init(document.getElementById('c'),null,{renderer:'canvas',width:3360,height:3360});
chart.setOption({
  animation:false,backgroundColor:'#ffffff',
  grid:{left:431,right:346,top:406,bottom:372,show:true,backgroundColor:'#eaeaf2',borderWidth:0,containLabel:false},
  xAxis:mkAxis(36,0),yAxis:mkAxis(42,[6,0,0,0]),
  series:seriesPoints.map((d,i)=>({type:'scatter',name:seriesNames[i],data:d,symbol:'circle',symbolSize:16,
    itemStyle:{color:seriesColors[i],opacity:1},z:2+i,silent:true,clip:false}))
});
</script></body></html>
